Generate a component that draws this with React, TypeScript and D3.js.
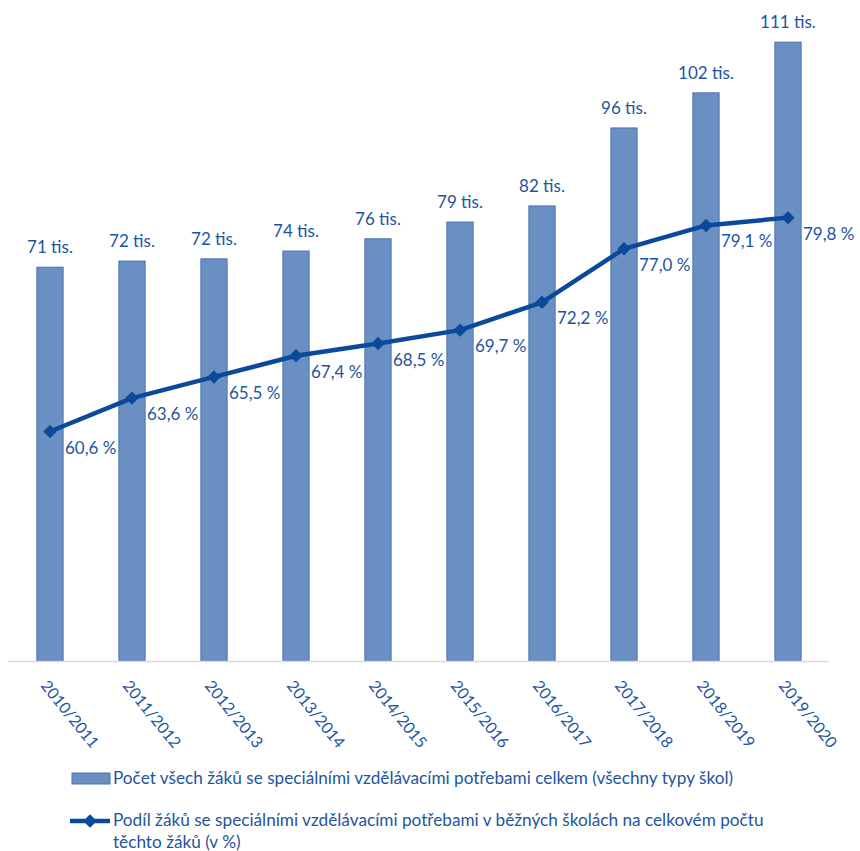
import { useEffect, useMemo } from "react";
import * as d3 from "d3";

const years = [
  "2010/2011", "2011/2012", "2012/2013", "2013/2014", "2014/2015",
  "2015/2016", "2016/2017", "2017/2018", "2018/2019", "2019/2020",
];
// total pupils with special needs, thousands
const totalPupils = [70.7, 71.8, 72.2, 73.6, 75.8, 78.8, 81.7, 95.7, 102.0, 111.1];
const totalLabels = ["71", "72", "72", "74", "76", "79", "82", "96", "102", "111"];
// share in mainstream schools, %
const sharePct = [60.6, 63.6, 65.5, 67.4, 68.5, 69.7, 72.2, 77.0, 79.1, 79.8];

const legendBar = "Počet všech žáků se speciálními vzdělávacími potřebami celkem (všechny typy škol)";
const legendLine = [
  "Podíl žáků se speciálními vzdělávacími potřebami v běžných školách na celkovém počtu",
  "těchto žáků (v %)",
];

const W = 860;
const H = 851;
const FONT = "Lato, 'Open Sans', sans-serif";
const TEXT = "#1e55a0";
const BAR_FILL = "#6a8fc3";
const BAR_STROKE = "#4a74ad";
const LINE = "#0b4a9a";

export default function App() {
  useEffect(() => {
    document.body.style.margin = "0";
  }, []);

  const x = useMemo(
    () => d3.scaleBand().domain(years).range([9, 829]).paddingInner(0.68).paddingOuter(0.34),
    []
  );
  const yBar = useMemo(() => d3.scaleLinear().domain([0, 120]).range([661, -7.4]), []);
  const yPct = useMemo(() => d3.scaleLinear().domain([40, 100]).range([661, -7.4]), []);

  const cx = (d: string) => (x(d) ?? 0) + x.bandwidth() / 2;

  const linePath = d3
    .line<number>()
    .x((_, i) => cx(years[i]))
    .y((d) => yPct(d))(sharePct) || "";

  const diamond = d3.symbol().type(d3.symbolDiamond2).size(115)() || "";

  return (
    <svg width={W} height={H} style={{ display: "block", fontFamily: FONT }}>
      <rect width={W} height={H} fill="#fff" />

      {/* bars */}
      {totalPupils.map((v, i) => (
        <rect
          key={years[i]}
          x={x(years[i])}
          y={yBar(v)}
          width={x.bandwidth()}
          height={yBar(0) - yBar(v)}
          fill={BAR_FILL}
          stroke={BAR_STROKE}
          strokeWidth={1}
        />
      ))}

      {/* category axis */}
      <line x1={8} x2={829} y1={yBar(0) + 0.5} y2={yBar(0) + 0.5} stroke="#d9d9d9" strokeWidth={1.5} />
      {years.map((d) => (
        <text
          key={d}
          transform={`translate(${cx(d) - 10},686) rotate(51)`}
          fontSize={16}
          fill={TEXT}
        >
          {d}
        </text>
      ))}

      {/* bar labels */}
      {totalPupils.map((v, i) => (
        <text
          key={"bl" + i}
          x={cx(years[i])}
          y={yBar(v) - 14}
          textAnchor="middle"
          fontSize={17}
          fill={TEXT}
        >
          {totalLabels[i]} tis.
        </text>
      ))}

      {/* share line */}
      <path d={linePath} fill="none" stroke={LINE} strokeWidth={4.5} strokeLinejoin="round" />
      {sharePct.map((v, i) => (
        <path key={"m" + i} d={diamond} transform={`translate(${cx(years[i])},${yPct(v)})`} fill={LINE} />
      ))}
      {sharePct.map((v, i) => (
        <text
          key={"pl" + i}
          x={cx(years[i]) + 15}
          y={yPct(v) + 22}
          fontSize={17}
          fill={TEXT}
        >
          {v.toFixed(1).replace(".", ",")} %
        </text>
      ))}

      {/* legend */}
      <rect x={72} y={773} width={38} height={11} fill={BAR_FILL} stroke={BAR_STROKE} strokeWidth={1} />
      <text x={113} y={784} fontSize={17.2} fill={TEXT}>
        {legendBar}
      </text>
      <line x1={70} x2={110} y1={821} y2={821} stroke={LINE} strokeWidth={4.5} />
      <path d={diamond} transform="translate(90,821)" fill={LINE} />
      {legendLine.map((t, i) => (
        <text key={"ll" + i} x={113} y={826 + i * 22} fontSize={17.2} fill={TEXT}>
          {t}
        </text>
      ))}
    </svg>
  );
}
